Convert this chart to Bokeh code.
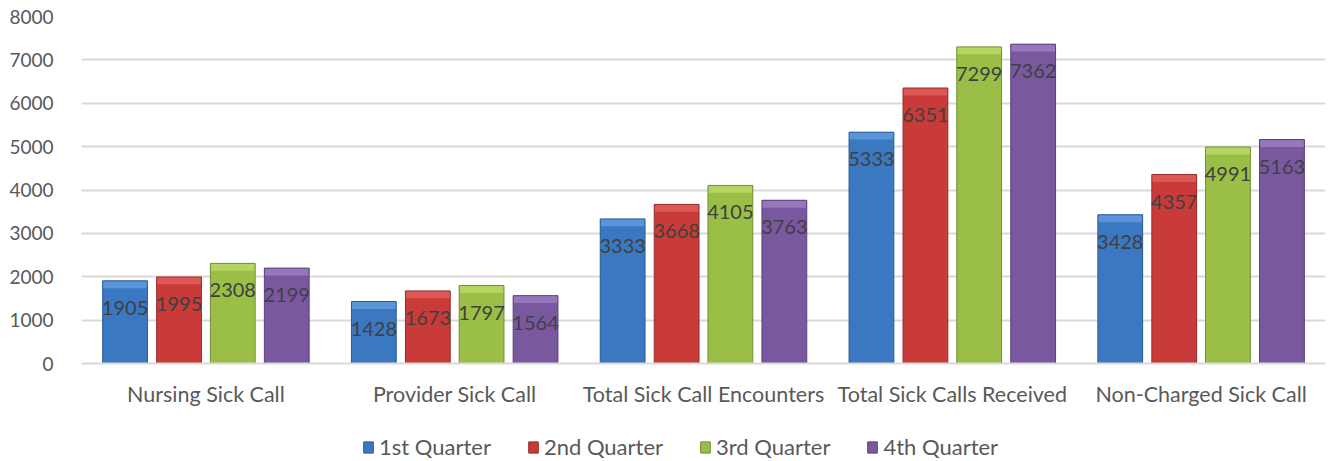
from bokeh.plotting import figure
from bokeh.layouts import column
from bokeh.models import ColumnDataSource, FactorRange, Legend, LegendItem, SingleIntervalTicker
from bokeh.transform import dodge
from bokeh.core.properties import value
from bokeh.embed import file_html
from bokeh.resources import INLINE

categories = ["Nursing Sick Call", "Provider Sick Call", "Total Sick Call Encounters",
              "Total Sick Calls Received", "Non-Charged Sick Call"]
series_names = ["1st Quarter", "2nd Quarter", "3rd Quarter", "4th Quarter"]
q1 = [1905, 1428, 3333, 5333, 3428]
q2 = [1995, 1673, 3668, 6351, 4357]
q3 = [2308, 1797, 4105, 7299, 4991]
q4 = [2199, 1564, 3763, 7362, 5163]
series_values = [q1, q2, q3, q4]

colors = ["#3A78C2", "#C93B38", "#9BBE47", "#7A58A0"]
tops = ["#5A95D8", "#DB5855", "#B5D563", "#9677BC"]
edge = ["#2A5A92", "#962B28", "#718D33", "#583E78"]
offsets = [-0.325, -0.108, 0.108, 0.325]
FONT = "Lato"
CAP = 170  # bevel height in data units (style only)

p = figure(x_range=FactorRange(*categories, range_padding=0), y_range=(0, 8000),
           frame_width=1244, frame_height=347, output_backend="svg", toolbar_location=None,
           min_border_left=81, min_border_right=8, min_border_top=16, min_border_bottom=50)
p.outline_line_color = None
p.background_fill_color = "white"
p.border_fill_color = "white"

for name, vals, c, t, e, off in zip(series_names, series_values, colors, tops, edge, offsets):
    src = ColumnDataSource(dict(cat=categories, val=vals, cap=[v - CAP for v in vals],
                                lab=[str(v) for v in vals]))
    x = dodge("cat", off, range=p.x_range)
    p.vbar(x=x, top="val", width=0.18, source=src, fill_color=c, line_color=None)
    p.vbar(x=x, top="val", bottom="cap", width=0.18, source=src, fill_color=t, line_color=None)
    p.vbar(x=x, top="val", width=0.18, source=src, fill_color=None, line_color=e, line_width=1)
    p.text(x=x, y="val", text="lab", source=src,
           y_offset=27, text_align="center", text_baseline="middle",
           text_font=value(FONT), text_font_size="20px", text_color="#404040")

p.yaxis.ticker = SingleIntervalTicker(interval=1000)
p.yaxis.axis_line_color = None
p.yaxis.major_tick_line_color = None
p.yaxis.minor_tick_line_color = None
p.yaxis.major_label_text_font = FONT
p.yaxis.major_label_text_font_size = "19px"
p.yaxis.major_label_text_color = "#595959"
p.yaxis.major_label_standoff = 22

p.xaxis.axis_line_color = "#D9D9D9"
p.xaxis.axis_line_width = 2
p.xaxis.major_tick_line_color = None
p.xaxis.minor_tick_line_color = None
p.xaxis.major_label_text_font = FONT
p.xaxis.major_label_text_font_size = "21.5px"
p.xaxis.major_label_text_color = "#595959"
p.xaxis.major_label_standoff = 11

p.xgrid.grid_line_color = None
p.ygrid.grid_line_color = "#D9D9D9"
p.ygrid.grid_line_width = 2

# legend strip below the chart (its frame is aligned with the chart frame)
lg = figure(width=1333, height=48, x_range=(0, 1), y_range=(0, 1), output_backend="svg",
            toolbar_location=None, x_axis_type=None, y_axis_type=None,
            min_border=0)
lg.outline_line_color = None
lg.grid.visible = False
items = []
nan = float("nan")
for name, c, e in zip(series_names, colors, edge):
    r = lg.vbar(x=[nan], top=[nan], width=0.1, fill_color=c, line_color=e)
    items.append(LegendItem(label=name, renderers=[r]))
legend = Legend(items=items, orientation="horizontal", location=(281, 1),
                label_text_font=FONT, label_text_font_size="22px", label_text_color="#595959",
                glyph_width=12, glyph_height=14, spacing=36, label_standoff=5,
                border_line_color=None, background_fill_alpha=0, margin=0, padding=4)
lg.add_layout(legend, "center")

layout = column(p, lg, spacing=0)
open("out.html", "w").write(file_html(layout, INLINE))
